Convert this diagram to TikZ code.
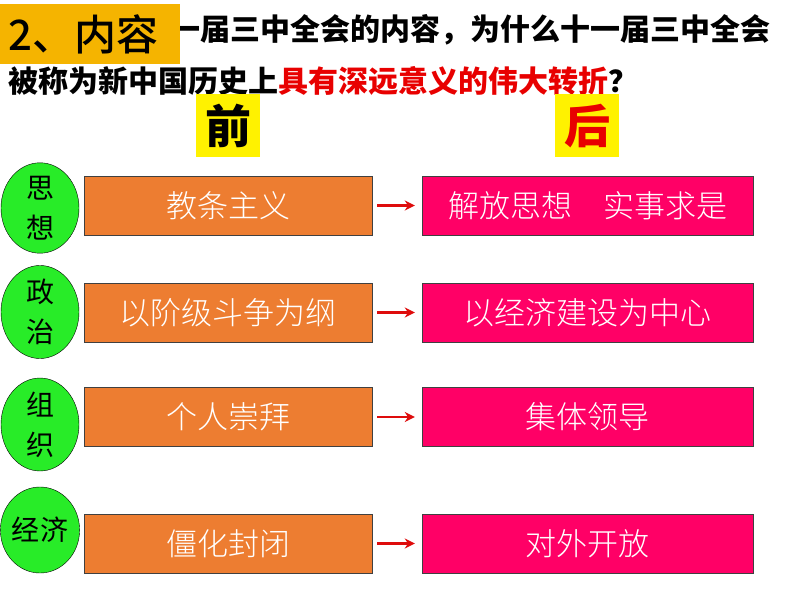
\documentclass[tikz,border=0pt]{standalone}
\usepackage{fontspec}
\newfontfamily\cjk{Noto Sans CJK SC}
\newfontfamily\cjklight{Noto Sans CJK SC Light}
\newfontfamily\cjkmedium{Noto Sans CJK SC Medium}
\usepackage{tikz}
\usetikzlibrary{
  arrows.meta,
  shapes.geometric
}
\definecolor{tagamber}{RGB}{245,180,0}
\definecolor{topicgreen}{RGB}{40,236,40}
\definecolor{oldorange}{RGB}{237,125,49}
\definecolor{newpink}{RGB}{255,0,102}
\definecolor{titlered}{RGB}{232,0,0}
\definecolor{arrowred}{RGB}{222,12,12}

\begin{document}
\begin{tikzpicture}[
  x=1pt, y=-1pt,
  % Node styles
  titleline/.style={
    anchor=west,
    inner sep=0pt,
    font=\cjk\bfseries\fontsize{30}{36}\selectfont,
  },
  tagbox/.style={
    rectangle,
    fill=tagamber,
    anchor=north west,
    minimum height=60pt,
    text width=164pt,
    inner xsep=8pt,
    inner ysep=0pt,
    align=left,
    font=\cjkmedium\fontsize{42}{46}\selectfont,
  },
  heading/.style={
    rectangle,
    fill=yellow,
    minimum width=64pt,
    minimum height=63pt,
    inner sep=0pt,
    font=\cjk\bfseries\fontsize{46}{50}\selectfont,
  },
  topic/.style={
    ellipse,
    draw=black,
    fill=topicgreen,
    minimum width=78pt,
    minimum height=86pt,
    inner sep=0pt,
    align=center,
    font=\cjk\fontsize{28}{40}\selectfont,
  },
  before/.style={
    rectangle,
    draw=black!75,
    fill=oldorange,
    minimum width=288pt,
    minimum height=59pt,
    text=white,
    font=\cjklight\fontsize{31}{36}\selectfont,
  },
  after/.style={
    rectangle,
    draw=black!75,
    fill=newpink,
    minimum width=331pt,
    minimum height=59pt,
    text=white,
    font=\cjklight\fontsize{31}{36}\selectfont,
  },
  arrow/.style={
    -{Stealth[length=10pt,width=10pt]},
    line width=2.5pt,
    arrowred,
    shorten <=5pt,
    shorten >=7pt,
  },
]
\useasboundingbox (0,0) rectangle (794,596);

% ── Question ──
\node[titleline] (q1) at (170,30) {一届三中全会的内容，为什么十一届三中全会};
\node[titleline] (q2) at (8,81) {被称为新中国历史上{\color{titlered}具有深远意义的伟大转折}？};
\node[tagbox] (tag) at (0,4) {\raisebox{-5pt}{2、内容}};

% ── Column heads ──
\node[heading] (qian) at (228,126) {前};
\node[heading, text=titlered] (hou) at (587,126) {后};

% ── Row 1: thought ──
\node[topic] (sixiang) at (40,208) {思\\想};
\node[before] (old1) at (228,205.5) {教条主义};
\node[after] (new1) at (587.5,205.5) {解放思想　实事求是};

% ── Row 2: politics ──
\node[topic] (zhengzhi) at (40,312) {政\\治};
\node[before] (old2) at (228,312.5) {以阶级斗争为纲};
\node[after] (new2) at (587.5,312.5) {以经济建设为中心};

% ── Row 3: organisation ──
\node[topic] (zuzhi) at (40,424.5) {组\\织};
\node[before] (old3) at (228,417) {个人崇拜};
\node[after] (new3) at (587.5,417) {集体领导};

% ── Row 4: economy ──
\node[topic] (jingji) at (40,530) {经济};
\node[before] (old4) at (228,543.5) {僵化封闭};
\node[after] (new4) at (587.5,543.5) {对外开放};

% ── Arrows ──
\draw[arrow] (old1) -- (new1);
\draw[arrow] (old2) -- (new2);
\draw[arrow] (old3) -- (new3);
\draw[arrow] (old4) -- (new4);

\end{tikzpicture}
\end{document}
